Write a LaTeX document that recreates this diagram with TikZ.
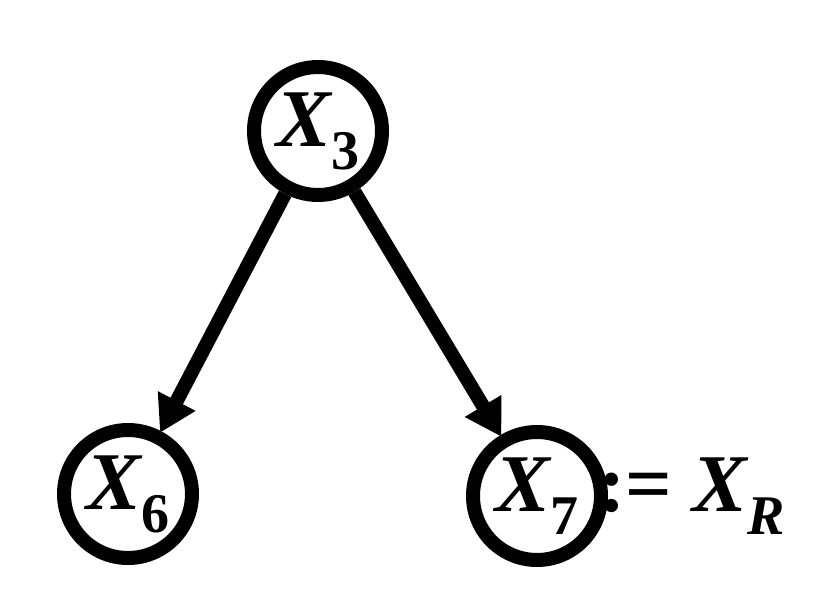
\documentclass[tikz,border=0pt]{standalone}
\usepackage{fontspec}
\setmainfont{Liberation Serif}
\usetikzlibrary{arrows.meta}
\newcommand{\vx}[1]{{\bfseries\itshape X}\raisebox{-0.28em}{\fontsize{56}{56}\selectfont\bfseries #1}}
\begin{document}
\begin{tikzpicture}[x=1pt,y=-1pt,
  nd/.style={circle,draw,line width=14pt,minimum size=128pt,inner sep=0pt,font=\fontsize{82}{82}\selectfont},
  ar/.style={line width=14pt,-{Triangle[length=36pt,width=40pt]},shorten >=-2pt}]
\useasboundingbox (0,0) rectangle (831,607);
\node[nd] (a) at (318,131) {\vx{3}};
\node[nd] (b) at (128,494) {\vx{6}};
\node[nd] (c) at (537,496) {\vx{7}};
\draw[ar] (a) -- (b);
\draw[ar] (a) -- (c);
\node[anchor=west,inner sep=0pt,font=\fontsize{82}{82}\selectfont] (t) at (598,496) {{\bfseries:=} \vx{\itshape R}};
\end{tikzpicture}
\end{document}
